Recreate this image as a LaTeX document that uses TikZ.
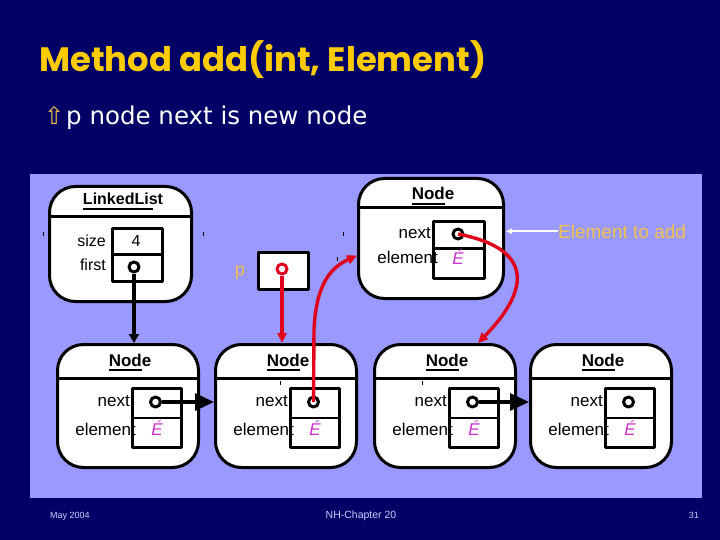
\documentclass[tikz,border=0pt]{standalone}
\usepackage{fontspec}
\setmainfont{Liberation Sans}
\newfontfamily\dejavu{DejaVu Sans}
\newfontfamily\titlefont{Poppins}
\usetikzlibrary{arrows.meta}
\definecolor{navy}{HTML}{000066}
\definecolor{panelblue}{HTML}{9999FF}
\definecolor{ttl}{HTML}{FFCC00}
\definecolor{lbl}{HTML}{F0C050}
\definecolor{mag}{HTML}{CC33CC}
\definecolor{ptrred}{HTML}{E0001B}
\definecolor{foot}{HTML}{CCCCFF}
\begin{document}
\begin{tikzpicture}[x=1pt,y=-1pt,line join=round,
  obj/.style={draw=black, line width=3pt, fill=white, rounded corners=26pt, inner sep=0pt, anchor=north west},
  cell/.style={draw=black, line width=2.6pt, fill=white, inner sep=0pt, anchor=north west, minimum width=49pt, minimum height=29.5pt},
  ptr/.style={circle, draw=black, line width=3pt, fill=white, inner sep=0pt, minimum size=10pt},
  fld/.style={font=\fontsize{17}{20}\selectfont, anchor=base east, inner sep=0pt},
  ttlbl/.style={font=\bfseries\fontsize{17}{20}\selectfont, inner sep=0pt, anchor=base},
  elem/.style={font=\itshape\fontsize{17}{20}\selectfont, text=mag, inner sep=0pt, anchor=base},
  blkptr/.style={line width=3.2pt, draw=black},
  redptr/.style={line width=3.4pt, draw=ptrred, -{Triangle[length=10pt,width=9pt]}},
  divline/.style={line width=3pt},
  uline/.style={line width=2.2pt},
  tick/.style={line width=0.8pt, black}
]
\useasboundingbox (0,0) rectangle (720,540);
\fill[navy] (0,0) rectangle (720,540);
\fill[panelblue] (30,174) rectangle (702,498);

% title and subtitle
\node[anchor=base west, inner sep=0pt, text=ttl] (title) at (39,72)
  {\resizebox{447pt}{!}{\titlefont\bfseries Method add(int, Element)}};
\node[anchor=base west, inner sep=0pt, text=lbl, font=\dejavu\fontsize{24}{28}\selectfont] (bul) at (44,125) {⇧};
\node[anchor=base west, inner sep=0pt, text=white, font=\dejavu\fontsize{24.5}{28}\selectfont] (sub) at (66,125) {p node next is new node};

% LinkedList object
\node[obj, minimum width=142pt, minimum height=115pt] (ll) at (48,185) {};
\draw[divline] (48,217) -- (190,217);
\node[ttlbl, font=\bfseries\fontsize{16}{19}\selectfont] (llt) at (123,205) {LinkedList};
\draw[uline] ([yshift=-3.5pt]llt.south west) -- ([yshift=-3.5pt,xshift=-10pt]llt.south east);
\node[cell, minimum width=50pt, minimum height=26pt] (lla) at (111,227) {};
\node[cell, minimum width=50pt, minimum height=27pt] (llb) at (111,253) {};
\node[fld, font=\fontsize{16}{19}\selectfont] (llsz) at (106,246) {size};
\node[fld, font=\fontsize{16}{19}\selectfont] (llfi) at (106,270) {first};
\node[anchor=base, inner sep=0pt, font=\fontsize{16}{19}\selectfont] (llv) at (136,246) {4};
\node[ptr] (llp) at (134,267) {};

% p variable
\node[anchor=base, inner sep=0pt, text=lbl, font=\fontsize{18}{21}\selectfont] (plbl) at (240,275) {p};
\node[draw=black, line width=3pt, fill=white, minimum width=50pt, minimum height=37pt, inner sep=0pt, anchor=north west] (pbox) at (257,251) {};
\node[ptr, draw=ptrred] (pp) at (282,269) {};

% new node (top)
\node[obj, minimum width=145pt, minimum height=120pt] (topn) at (357,177) {};
\draw[divline] (357,208) -- (502,208);
\node[ttlbl] (topt) at (433,200) {Node};
\draw[uline] ([yshift=-3.5pt]topt.south west) -- ([yshift=-3.5pt,xshift=-9pt]topt.south east);
\node[cell, minimum width=51pt, minimum height=27pt] (topa) at (432,220) {};
\node[cell, minimum width=51pt, minimum height=30pt] (topb) at (432,247) {};
\node[fld] (topnx) at (431,239) {next};
\node[fld] (topel) at (438,263) {element};
\node[ptr] (topp) at (458,234) {};
\node[elem] (tope) at (458,264) {É};

% element to add
\node[anchor=base west, inner sep=0pt, text=lbl, font=\fontsize{19}{22}\selectfont] (eta) at (558,238) {Element to add};
\draw[line width=1.5pt, white, -{Latex[length=7pt,width=6pt]}] (eta.west) -- (eta.west -| topn.east);

% list nodes
\foreach \i/\x in {1/56,2/214,3/373,4/529} {
  \node[obj, minimum width=141pt, minimum height=123pt] (n\i) at (\x,343) {};
  \draw[divline] (\x,378) -- (\x+141,378);
  \node[ttlbl] (t\i) at (\x+74,366) {Node};
  \draw[uline] ([yshift=-3.5pt]t\i.south west) -- ([yshift=-3.5pt,xshift=-9pt]t\i.south east);
  \node[cell] (a\i) at (\x+75,387) {};
  \node[cell] (b\i) at (\x+75,416.5) {};
  \node[fld] (nx\i) at (\x+74,406) {next};
  \node[fld] (el\i) at (\x+80,435) {element};
  \node[ptr] (p\i) at (\x+99.5,402) {};
  \node[elem] (e\i) at (\x+101,435) {É};
}

% black pointers
\draw[blkptr, -{Triangle[length=9pt,width=10pt]}] (llp) -- (llp |- n1.north);
\draw[blkptr, -{Triangle[length=19pt,width=17pt]}] (p1) -- (p1 -| n2.west);
\draw[blkptr, -{Triangle[length=19pt,width=17pt]}] (p3) -- (p3 -| n4.west);

% red pointers
\draw[redptr] (pp) -- (pp |- n2.north);
\draw[redptr] (p2.center) -- (314,330) .. controls (316,285) and (330,268) .. ([yshift=-17pt]topn.west);
\draw[redptr] (topp.center) .. controls (540,250) and (525,295) .. ([xshift=33pt]n3.north);

% small marks
\draw[tick] (43,232) -- (43,236);
\draw[tick] (203,232) -- (203,236);
\draw[tick] (343,232) -- (343,236);
\draw[tick] (337,257) -- (337,261);
\draw[tick] (280,381) -- (280,385);
\draw[tick] (422,381) -- (422,385);

% footer
\node[anchor=base west, inner sep=0pt, text=foot, font=\fontsize{9}{11}\selectfont] (fl) at (50,518) {May 2004};
\node[anchor=base, inner sep=0pt, text=foot, font=\fontsize{10.5}{12}\selectfont] (fc) at (361,518) {NH-Chapter 20};
\node[anchor=base east, inner sep=0pt, text=foot, font=\fontsize{9}{11}\selectfont] (fr) at (699,518) {31};
\end{tikzpicture}
\end{document}
